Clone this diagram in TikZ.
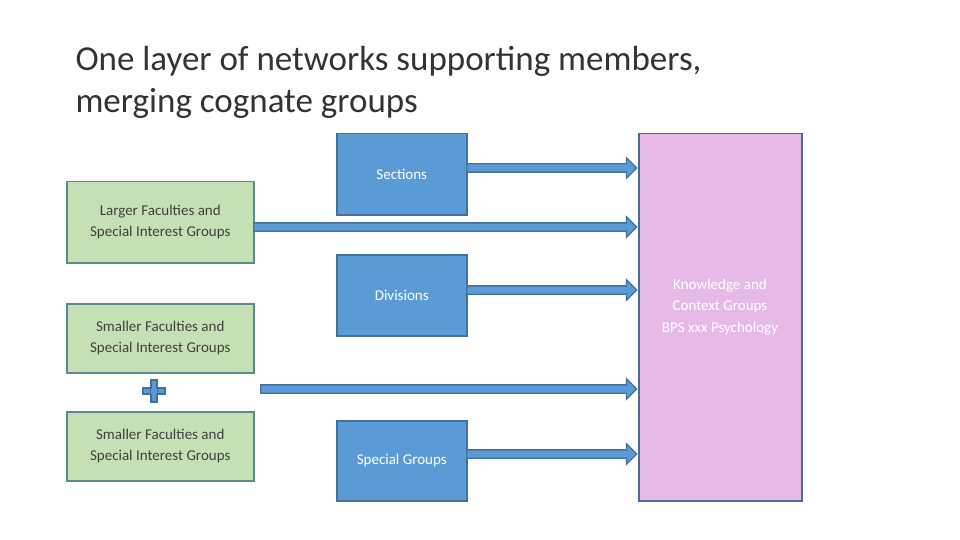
\documentclass[tikz,border=0pt]{standalone}
\usepackage{fontspec}
\setmainfont{Carlito}
\usetikzlibrary{shapes.arrows}
\definecolor{bfill}{HTML}{5B9BD5}
\definecolor{bline}{HTML}{41719C}
\definecolor{gfill}{HTML}{C5E0B4}
\definecolor{gline}{HTML}{5B8A8A}
\definecolor{pfill}{HTML}{E6B9E6}
\definecolor{pline}{HTML}{4A6A9A}
\tikzset{
  bbox/.style={draw=bline,line width=1.5pt,fill=bfill,minimum width=130pt,minimum height=81pt,text=white,font=\fontsize{15}{18}\selectfont,align=center,inner sep=0pt},
  gbox/.style={draw=gline,line width=1.5pt,fill=gfill,minimum width=187pt,text=black!75,font=\fontsize{15}{21}\selectfont,align=center,inner sep=0pt},
  barrow/.style={single arrow,draw=bline,fill=bfill,line width=1.3pt,inner sep=3.5pt,single arrow head extend=6pt,single arrow head indent=0pt,anchor=west,shape border rotate=0}
}
\begin{document}
\begin{tikzpicture}[x=1pt,y=-1pt]
\useasboundingbox (0,0) rectangle (960,540);
\node[anchor=west,font=\fontsize{35}{42}\selectfont,text=black!80,align=left] (title) at (72,82) {One layer of networks supporting members,\\merging cognate groups};
\node[bbox,anchor=north west] (sec) at (336,133) {Sections};
\node[bbox,anchor=north west] (div) at (336,254) {Divisions};
\node[bbox,anchor=north west,minimum height=80pt] (spg) at (336,420) {Special Groups};
\node[draw=pline,line width=1.5pt,fill=pfill,minimum width=163pt,minimum height=367pt,anchor=north west,inner sep=0pt] (kc) at (638,133) {};
\node[text=white,font=\fontsize{15}{21.5}\selectfont,align=center] (kct) at (720,307) {Knowledge and\\Context Groups\\BPS xxx Psychology};
\node[gbox,minimum height=81pt,anchor=north west] (g1) at (66,181) {Larger Faculties and\\Special Interest Groups};
\node[gbox,minimum height=69pt,anchor=north west] (g2) at (66,303) {Smaller Faculties and\\Special Interest Groups};
\node[gbox,minimum height=69pt,anchor=north west] (g3) at (66,411) {Smaller Faculties and\\Special Interest Groups};
\node[draw=bline,fill=bfill,line width=1.3pt,inner sep=0pt,minimum width=22pt,minimum height=6pt] (plh) at (154,391) {};
\node[draw=bline,fill=bfill,line width=1.3pt,inner sep=0pt,minimum width=6pt,minimum height=22pt] (plv) at (154,391) {};
\fill[bfill] (151,388.5) rectangle (157,393.5);
\coordinate (a1) at (466,168);
\coordinate (a2) at (253,227);
\coordinate (a3) at (466,290);
\coordinate (a4) at (260,389);
\coordinate (a5) at (466,454);
\node[barrow,minimum height=170pt] (r1) at (a1) {};
\node[barrow,minimum height=383pt] (r2) at (a2) {};
\node[barrow,minimum height=170pt] (r3) at (a3) {};
\node[barrow,minimum height=376pt] (r4) at (a4) {};
\node[barrow,minimum height=170pt] (r5) at (a5) {};
\end{tikzpicture}
\end{document}
